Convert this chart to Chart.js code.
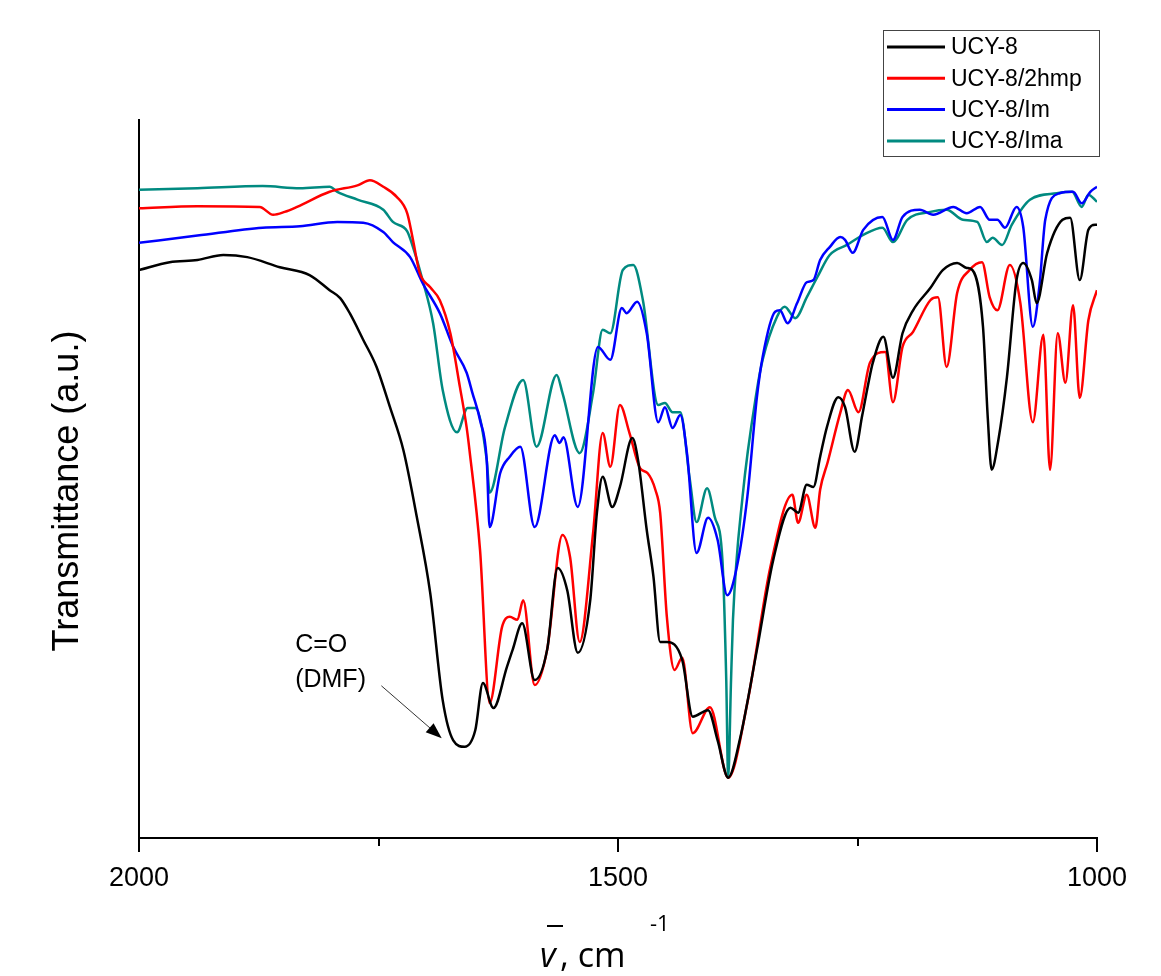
<!DOCTYPE html>
<html>
<head>
<meta charset="utf-8">
<script src="https://cdn.jsdelivr.net/npm/chart.js@4.4.1/dist/chart.umd.min.js"></script>
<style>
  html, body { margin: 0; padding: 0; background: #fff; }
  #wrap { width: 1161px; height: 976px; }
</style>
</head>
<body>
<div id="wrap"><canvas id="irChart" width="1161" height="976"></canvas></div>
<script>
// wavenumber (cm-1) / transmittance (a.u.)
var ucy8Wn = [2000,1968,1939,1912,1887,1853,1822,1801,1790,1780,1766,1752,1738,1724,1710,1696,1683,1672,1660,1649,1641,1630,1616,1610,1600,1587,1574,1563,1553,1542,1529,1522,1516,1506,1498,1485,1479,1470,1463,1456,1449,1433,1422,1406,1396,1385,1373,1355,1338,1320,1312,1303,1296,1289,1282,1270,1263,1253,1245,1239,1234,1223,1213,1203,1192,1174,1161,1146,1136,1130,1119,1114,1110,1103,1094,1084,1077,1068,1063,1052,1036,1028,1018,1009,1002,1000];
var ucy8T  = [79.1,80.2,80.5,81.2,80.9,79.5,78.4,76.3,75.2,73.1,69.4,65.6,60.0,54.0,44.7,34.1,19.2,13.6,12.7,15.0,21.6,18.1,23.8,26.2,29.9,22.0,26.2,37.6,34.5,25.8,33.1,45.3,50.3,46.1,48.9,55.7,52.6,42.9,36.4,27.3,27.3,24.8,16.9,17.8,13.6,8.4,13.6,26.2,38.7,46.0,45.3,49.2,48.9,53.1,57.2,61.4,60.0,53.8,58.9,63.1,66.2,69.8,64.1,70.3,73.5,76.6,79.1,80.1,79.4,79.1,71.2,58.5,51.3,55.4,64.2,77.7,80.1,77.7,74.5,81.5,86.1,86.4,77.7,84.7,85.4,85.4];

var hmpWn = [2000,1939,1874,1860,1848,1835,1801,1772,1759,1745,1731,1720,1714,1707,1696,1686,1675,1665,1658,1655,1644,1634,1621,1613,1605,1599,1587,1574,1558,1550,1540,1526,1516,1508,1498,1488,1477,1469,1461,1456,1449,1441,1433,1422,1404,1385,1365,1341,1318,1312,1303,1294,1289,1281,1268,1260,1249,1237,1221,1213,1203,1192,1174,1166,1157,1146,1133,1120,1112,1104,1091,1080,1067,1056,1049,1041,1033,1025,1018,1009,1000];
var hmpT  = [87.7,88.0,87.9,86.8,87.2,87.9,90.0,90.9,91.6,90.7,89.3,87.0,83.3,78.7,76.7,74.9,70.3,62.8,57.2,54.0,40.1,18.8,29.4,30.8,30.4,33.1,21.3,26.2,42.2,39.1,27.3,42.5,56.4,51.7,60.3,56.4,51.5,50.8,48.5,45.3,30.8,23.4,25.1,14.6,18.2,8.4,18.8,37.7,47.8,43.9,47.8,43.2,48.5,52.4,59.2,62.4,59.3,66.2,67.7,60.7,68.4,70.5,74.9,75.3,65.6,75.9,79.1,80.2,75.3,73.5,79.8,74.5,57.9,70.1,51.3,70.3,63.4,74.2,61.3,72.1,76.3];

var imWn = [2000,1939,1871,1832,1793,1766,1745,1735,1717,1704,1686,1672,1658,1652,1644,1637,1634,1623,1613,1602,1587,1566,1561,1557,1542,1521,1508,1496,1491,1480,1470,1458,1451,1443,1435,1428,1418,1406,1396,1386,1376,1365,1355,1349,1336,1331,1323,1313,1303,1296,1289,1279,1268,1263,1255,1244,1224,1213,1203,1185,1171,1150,1136,1122,1112,1104,1096,1084,1077,1067,1060,1054,1039,1025,1016,1007,1000];
var imT  = [82.9,83.9,85.0,85.2,85.8,85.7,84.4,83.0,80.9,77.3,73.1,68.4,64.8,62.0,58.2,52.6,43.3,50.8,53.1,54.5,43.3,56.1,55.0,55.8,46.1,68.4,66.6,73.8,73.1,74.7,70.3,57.9,60.0,57.1,58.9,53.6,39.7,44.6,41.5,33.8,37.7,47.5,61.4,67.0,73.3,73.5,71.7,74.5,77.4,77.7,80.5,82.3,83.7,83.3,81.5,84.7,86.5,83.3,86.5,87.5,86.8,87.9,87.0,87.9,86.1,86.1,85.0,87.9,85.1,71.2,77.0,86.1,89.8,90.0,88.4,90.0,90.7];

var imaWn = [2000,1939,1871,1832,1801,1793,1772,1745,1735,1720,1714,1704,1693,1683,1668,1657,1649,1637,1634,1618,1599,1585,1564,1558,1540,1526,1516,1508,1495,1484,1474,1458,1451,1443,1435,1425,1418,1407,1399,1391,1387,1385,1382,1380,1370,1355,1349,1334,1326,1315,1303,1292,1279,1261,1244,1224,1213,1198,1174,1157,1140,1125,1115,1109,1099,1089,1070,1042,1026,1016,1009,1000];
var imaT  = [90.3,90.5,90.8,90.5,90.7,90.0,88.9,87.5,85.8,84.5,82.3,77.7,71.7,62.4,56.5,59.9,59.9,52.6,48.1,57.2,63.8,54.5,64.5,62.0,53.6,62.0,70.8,70.3,79.1,79.8,74.9,60.3,60.6,59.3,59.3,49.9,44.0,48.7,44.7,38.7,22.0,8.4,22.0,30.4,47.5,62.4,66.6,72.6,74.0,72.4,75.3,78.1,81.2,82.6,84.0,85.0,83.0,86.1,87.2,87.5,86.1,85.8,83.0,83.6,82.6,85.4,88.9,89.8,90.0,87.9,89.6,88.6];

var seriesNames  = ["UCY-8", "UCY-8/2hmp", "UCY-8/Im", "UCY-8/Ima"];
var seriesColors = ["#000000", "#ff0000", "#0000ff", "#008a80"];
var majorTicks = [2000, 1500, 1000];
var minorTicks = [1750, 1250];

function pairs(xs, ys) {
  return xs.map(function(x, i) { return { x: x, y: ys[i] }; });
}

var allData = [pairs(ucy8Wn, ucy8T), pairs(hmpWn, hmpT), pairs(imWn, imT), pairs(imaWn, imaT)];

// axis ticks, labels, titles, legend and the DMF note
var decor = {
  id: "decor",
  afterDraw: function(chart) {
    var ctx = chart.ctx;
    var xs = chart.scales.x, ys = chart.scales.y;
    var area = chart.chartArea;
    ctx.save();

    ctx.strokeStyle = "#000";
    ctx.lineWidth = 2;
    majorTicks.forEach(function(v) {
      var px = Math.round(xs.getPixelForValue(v));
      ctx.beginPath(); ctx.moveTo(px, area.bottom); ctx.lineTo(px, area.bottom + 14); ctx.stroke();
    });
    minorTicks.forEach(function(v) {
      var px = Math.round(xs.getPixelForValue(v));
      ctx.beginPath(); ctx.moveTo(px, area.bottom); ctx.lineTo(px, area.bottom + 8); ctx.stroke();
    });

    ctx.fillStyle = "#000";
    ctx.font = "27px 'Liberation Sans', Arial, sans-serif";
    ctx.textAlign = "center";
    ctx.textBaseline = "alphabetic";
    majorTicks.forEach(function(v) {
      ctx.fillText(String(v), xs.getPixelForValue(v), area.bottom + 48);
    });

    // x title: v-bar, cm^-1
    ctx.textAlign = "left";
    ctx.font = "italic 34px 'Open Sans', 'Liberation Sans', sans-serif";
    ctx.fillText("v", 540, 967);
    ctx.fillRect(547, 925, 16, 2);
    ctx.font = "34px 'Open Sans', 'Liberation Sans', sans-serif";
    ctx.fillText(", cm", 560, 967);
    ctx.font = "22px 'Open Sans', 'Liberation Sans', sans-serif";
    ctx.fillText("-1", 650, 931);

    // y title
    ctx.save();
    ctx.translate(78, (area.top + area.bottom) / 2 + 12);
    ctx.rotate(-Math.PI / 2);
    ctx.textAlign = "center";
    ctx.font = "36px 'Liberation Sans', Arial, sans-serif";
    ctx.fillText("Transmittance (a.u.)", 0, 0);
    ctx.restore();

    // legend box
    ctx.strokeStyle = "#444";
    ctx.lineWidth = 1;
    ctx.strokeRect(883.5, 30.5, 216, 126);
    ctx.font = "23px 'Liberation Sans', Arial, sans-serif";
    ctx.textBaseline = "middle";
    chart.data.datasets.forEach(function(ds, i) {
      var y = 47 + i * 31.3;
      ctx.strokeStyle = ds.borderColor;
      ctx.lineWidth = 3;
      ctx.beginPath(); ctx.moveTo(887, y); ctx.lineTo(945, y); ctx.stroke();
      ctx.fillStyle = "#000";
      ctx.fillText(ds.label, 951, y + 1);
    });

    // C=O (DMF) note with arrow
    ctx.textBaseline = "alphabetic";
    ctx.font = "25px 'Liberation Sans', Arial, sans-serif";
    var tx = xs.getPixelForValue(1837);
    ctx.fillText("C=O", tx, ys.getPixelForValue(25.9));
    ctx.fillText("(DMF)", tx, ys.getPixelForValue(21.0));
    var x0 = xs.getPixelForValue(1747), y0 = ys.getPixelForValue(21.2);
    var x1 = xs.getPixelForValue(1684), y1 = ys.getPixelForValue(13.9);
    var ang = Math.atan2(y1 - y0, x1 - x0);
    ctx.strokeStyle = "#333";
    ctx.lineWidth = 1;
    ctx.beginPath(); ctx.moveTo(x0, y0); ctx.lineTo(x1 - 10 * Math.cos(ang), y1 - 10 * Math.sin(ang)); ctx.stroke();
    ctx.fillStyle = "#000";
    ctx.beginPath();
    ctx.moveTo(x1, y1);
    ctx.lineTo(x1 - 16 * Math.cos(ang) + 6 * Math.sin(ang), y1 - 16 * Math.sin(ang) - 6 * Math.cos(ang));
    ctx.lineTo(x1 - 16 * Math.cos(ang) - 6 * Math.sin(ang), y1 - 16 * Math.sin(ang) + 6 * Math.cos(ang));
    ctx.closePath();
    ctx.fill();

    ctx.restore();
  }
};

new Chart(document.getElementById("irChart"), {
  type: "line",
  data: {
    datasets: seriesNames.map(function(name, i) {
      return {
        label: name,
        data: allData[i],
        borderColor: seriesColors[i],
        backgroundColor: seriesColors[i],
        borderWidth: 2.5,
        pointRadius: 0,
        fill: false,
        cubicInterpolationMode: "monotone"
      };
    })
  },
  options: {
    responsive: false,
    animation: false,
    layout: { padding: { left: 139, right: 64, top: 120, bottom: 138 } },
    plugins: { legend: { display: false }, tooltip: { enabled: false } },
    scales: {
      x: {
        type: "linear", reverse: true, min: 1000, max: 2000,
        grid: { display: false, drawTicks: false },
        border: { display: true, color: "#000", width: 2 },
        ticks: { display: false }
      },
      y: {
        min: 0, max: 100,
        grid: { display: false, drawTicks: false },
        border: { display: true, color: "#000", width: 2 },
        ticks: { display: false }
      }
    }
  },
  plugins: [decor]
});
</script>
</body>
</html>
